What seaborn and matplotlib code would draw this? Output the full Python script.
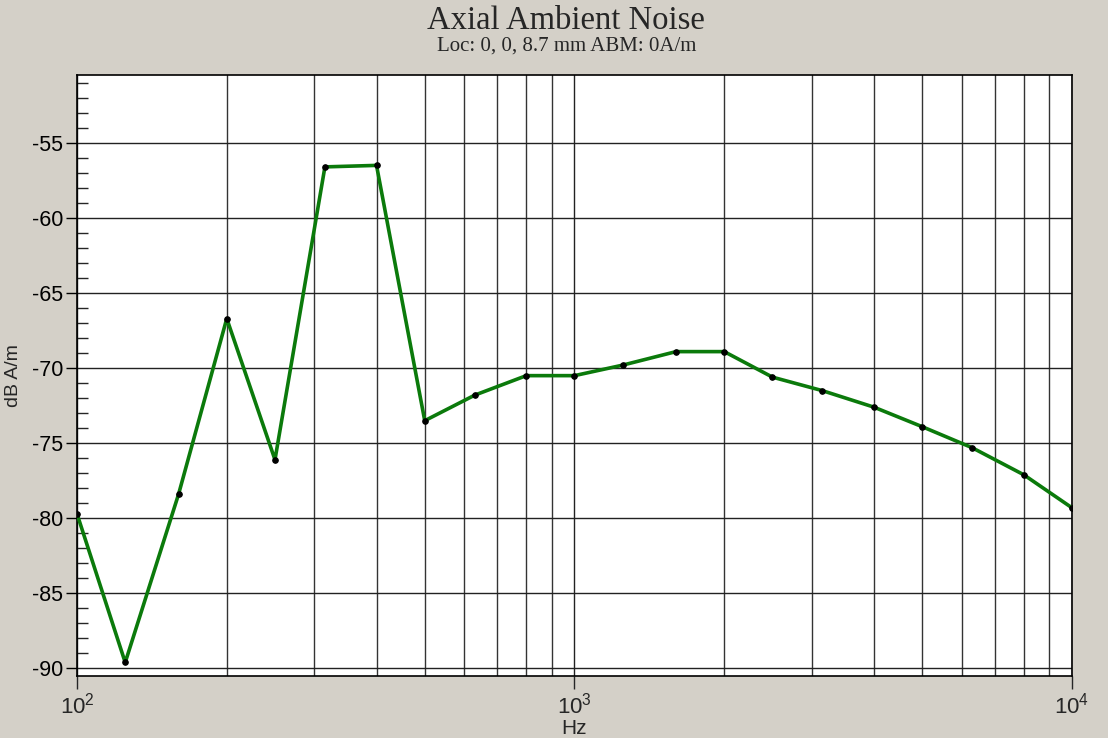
import matplotlib
matplotlib.use("Agg")
import matplotlib.pyplot as plt
import matplotlib.ticker as mticker
import pandas as pd
import seaborn as sns

# third-octave centre frequencies and measured levels
freq_hz = [100, 125, 160, 200, 250, 315, 400, 500, 630, 800, 1000,
           1250, 1600, 2000, 2500, 3150, 4000, 5000, 6300, 8000, 10000]
level_db = [-79.7, -89.6, -78.4, -66.7, -76.1, -56.6, -56.5, -73.5, -71.8,
            -70.5, -70.5, -69.8, -68.9, -68.9, -70.6, -71.5, -72.6, -73.9,
            -75.3, -77.1, -79.3]

title = "Axial Ambient Noise"
subtitle = "Loc: 0, 0, 8.7 mm ABM: 0A/m"

df = pd.DataFrame({"Hz": freq_hz, "dB A/m": level_db})

sns.set_style("white")
plt.rcParams["font.family"] = ["Liberation Sans", "DejaVu Sans"]
plt.rcParams["axes.unicode_minus"] = False
plt.rcParams["mathtext.fontset"] = "custom"
plt.rcParams["mathtext.rm"] = "Liberation Sans"
plt.rcParams["mathtext.it"] = "Liberation Sans"

bg = "#d4d0c8"
fig = plt.figure(figsize=(11.08, 7.38), dpi=100, facecolor=bg)
ax = fig.add_axes([0.0695, 0.084, 0.898, 0.814])
ax.set_facecolor("white")

sns.lineplot(data=df, x="Hz", y="dB A/m", ax=ax, color="#0b7a0b", lw=2.6,
             marker="o", markersize=4, markerfacecolor="black",
             markeredgecolor="black", zorder=3)

ax.set_xscale("log")
ax.set_xlim(100, 10000)
ax.set_ylim(-90.5, -50.5)

# grid
ax.xaxis.set_major_locator(mticker.LogLocator(base=10))
ax.xaxis.set_minor_locator(mticker.LogLocator(base=10, subs=range(2, 10)))
ax.xaxis.set_minor_formatter(mticker.NullFormatter())
ax.yaxis.set_major_locator(mticker.MultipleLocator(5))
ax.yaxis.set_minor_locator(mticker.MultipleLocator(1))
ax.grid(True, which="major", color="#222222", lw=1.0)
ax.grid(True, which="minor", axis="x", color="#333333", lw=1.0)

ax.tick_params(axis="y", which="major", direction="out", length=8, width=1,
               labelsize=15.5, colors="black", pad=2, left=True)
ax.tick_params(axis="y", which="minor", direction="in", length=8, width=1,
               left=True)
ax.tick_params(axis="x", which="major", direction="out", length=9, width=1,
               labelsize=16, pad=3, bottom=True)
ax.tick_params(axis="x", which="minor", length=0)

for s in ax.spines.values():
    s.set_color("black")
    s.set_linewidth(1.2)

ax.set_xlabel("Hz", fontsize=15, labelpad=0)
ax.set_ylabel("dB A/m", fontsize=14, labelpad=7)

fig.text(0.511, 0.961, title, ha="center", va="baseline", fontsize=23.5,
         family=["Liberation Serif", "DejaVu Serif"])
fig.text(0.511, 0.931, subtitle, ha="center", va="baseline", fontsize=15,
         family=["Liberation Serif", "DejaVu Serif"])

plt.savefig("out.png", dpi=100, facecolor=bg)
